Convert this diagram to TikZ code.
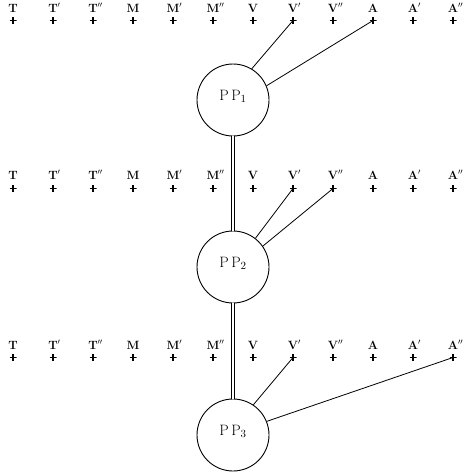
\documentclass[tikz,border=0pt]{standalone}
\begin{document}
\begin{tikzpicture}[x=1pt,y=-1pt,
 lab/.style={font=\bfseries\fontsize{12}{12}\selectfont, inner sep=0pt, anchor=base},
 pl/.style={inner sep=0pt, minimum width=7pt, minimum height=7pt,
   path picture={\draw[line width=1.2pt] (path picture bounding box.west) -- (path picture bounding box.east)
     ([yshift=0.3pt]path picture bounding box.north) -- ([yshift=-0.3pt]path picture bounding box.south);}},
 pp/.style={circle, draw, line width=0.9pt, minimum size=72pt, inner sep=0pt},
 pptext/.style={font=\fontsize{15}{15}\selectfont, inner sep=0pt},
 dbl/.style={double, double distance=1.8pt, line width=0.8pt},
 link/.style={line width=0.8pt}]
\useasboundingbox (0,0) rectangle (471,474);
\foreach \r/\ly/\py in {1/12/20.5, 2/179/188.5, 3/349/357.5}{
  \foreach \t [count=\i] in {T,T\rlap{$'$},T\rlap{$''$},M,M\rlap{$'$},M\rlap{$''$},V,V\rlap{$'$},V\rlap{$''$},A,A\rlap{$'$},A\rlap{$''$}}{
    \node[lab] (l\r-\i) at ({13+40*(\i-1)},\ly) {\t};
    \node[pl] (p\r-\i) at ({13+40*(\i-1)},\py) {};
  }
}
\node[pp] (pp1) at (233,100) {};
\node[pp] (pp2) at (233,267) {};
\node[pp] (pp3) at (233,435) {};
\node[pptext] (t1) at ([yshift=4pt]pp1.center) {P\,P$_1$};
\node[pptext] (t2) at ([yshift=4pt]pp2.center) {P\,P$_2$};
\node[pptext] (t3) at ([yshift=4pt]pp3.center) {P\,P$_3$};
\draw[dbl] (pp1.south) -- (pp2.north);
\draw[dbl] (pp2.south) -- (pp3.north);
\draw[link] (pp1.59) -- (p1-8.center);
\draw[link] (pp1.23) -- (p1-10.center);
\draw[link] (pp2.52) -- (p2-8.center);
\draw[link] (pp2.35) -- (p2-9.center);
\draw[link] (pp3.56) -- (p3-8.center);
\draw[link] (pp3.22) -- (p3-12.center);
\end{tikzpicture}
\end{document}
